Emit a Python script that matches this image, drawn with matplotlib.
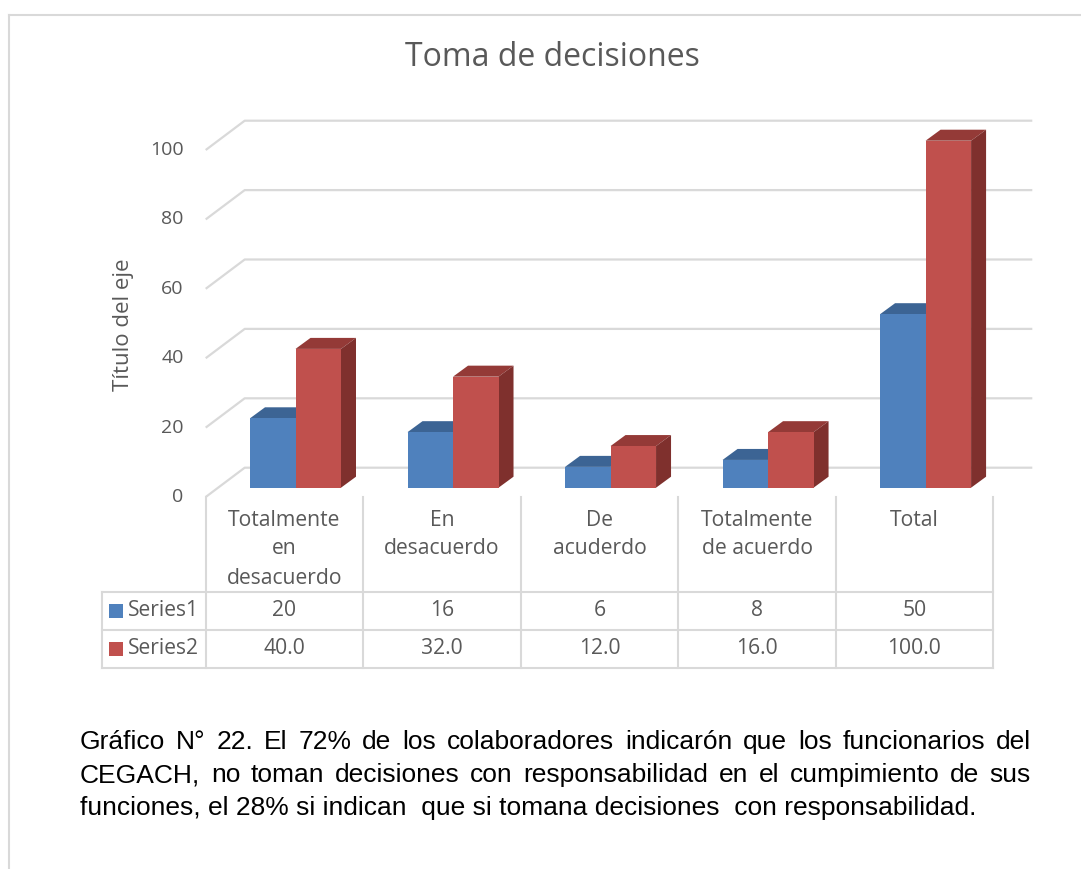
import matplotlib
matplotlib.use("Agg")
import matplotlib.pyplot as plt
from matplotlib.patches import Polygon, Rectangle
from matplotlib.lines import Line2D

# ---------------- data ----------------
categories = ["Totalmente\nen\ndesacuerdo", "En\ndesacuerdo", "De\nacuderdo",
              "Totalmente\nde acuerdo", "Total"]
series_names = ["Series1", "Series2"]
series1 = [20, 16, 6, 8, 50]
series2 = [40.0, 32.0, 12.0, 16.0, 100.0]
series1_labels = ["20", "16", "6", "8", "50"]
series2_labels = ["40.0", "32.0", "12.0", "16.0", "100.0"]
yticks = [0, 20, 40, 60, 80, 100]
title = "Toma de decisiones"
ylabel = "Título del eje"
caption_lines = [
    "Gráfico N° 22. El 72% de los colaboradores indicarón que los funcionarios del",
    "CEGACH, no toman decisiones  con responsabilidad en el cumpimiento de sus",
    "funciones, el 28% si indican  que si tomana decisiones  con responsabilidad.",
]

# ---------------- style ----------------
W, H = 1081, 869
FONT = ["Open Sans", "DejaVu Sans"]
CAP_FONT = ["Liberation Sans", "DejaVu Sans"]
GRAY_TXT = "#595959"
LINE = "#D9D9D9"
BLUE, BLUE_TOP, BLUE_SIDE = "#4F81BD", "#3C6494", "#385D8A"
RED, RED_TOP, RED_SIDE = "#C0504D", "#943A37", "#7F302D"
TXT_SIZE = 15.2

fig = plt.figure(figsize=(W / 100, H / 100), dpi=100)
fig.patch.set_facecolor("white")


def fx(x):
    return x / W


def fy(y):
    return 1 - y / H


# page frame
fig.add_artist(Line2D([fx(9), fx(9)], [fy(15), fy(869)], color=LINE, lw=1.5))
fig.add_artist(Line2D([fx(9), fx(1081)], [fy(15), fy(15)], color=LINE, lw=1.5))

# axes = front plane of the 3D box
L, R, T, B = 205.7, 993.3, 150.0, 497.0
ax = fig.add_axes([fx(L), fy(B), (R - L) / W, (B - T) / H])
ax.set_xlim(-0.5, 4.5)
ax.set_ylim(0, 100)
ax.axis("off")

px_x = (R - L) / 5.0      # pixels per category unit
px_y = (B - T) / 100.0    # pixels per value unit

# depth of the back wall and of the bars (pixel based)
WX, WY = 39 / px_x, 29.3 / px_y
BX, BY = 12.4 / px_x, 9.3 / px_y
DX, DY = 15 / px_x, 11 / px_y
bw = 45.5 / px_x
start = (250 - L) / px_x - 0.5 - BX   # blue bar left edge, relative to category centre

# gridlines on back wall with diagonal left wall edge
for v in yticks:
    ax.plot([-0.5, -0.5 + WX, 4.5 + WX], [v, v + WY, v + WY], color=LINE, lw=1.6,
            clip_on=False, zorder=1, solid_capstyle="butt")

# y tick labels
for v in yticks:
    ax.text(-0.5 - 22 / px_x, v, str(v), ha="right", va="center", fontsize=14,
            color=GRAY_TXT, family=FONT)

# bars
for i in range(len(categories)):
    for j, (vals, cf, ct, cs) in enumerate([(series1, BLUE, BLUE_TOP, BLUE_SIDE),
                                            (series2, RED, RED_TOP, RED_SIDE)]):
        v = vals[i]
        x0 = i + start + j * bw + BX
        x1 = x0 + bw
        y0 = BY
        y1 = v + BY
        top = Polygon([(x0, y1), (x1, y1), (x1 + DX, y1 + DY), (x0 + DX, y1 + DY)],
                      closed=True, facecolor=ct, edgecolor="none", zorder=3 + i * 3 + j, clip_on=False)
        side = Polygon([(x1, y0), (x1 + DX, y0 + DY), (x1 + DX, y1 + DY), (x1, y1)],
                       closed=True, facecolor=cs, edgecolor="none", zorder=3 + i * 3 + j, clip_on=False)
        ax.add_patch(top)
        ax.add_patch(side)
        ax.bar(x0, v, width=bw, bottom=y0, align="edge", color=cf, edgecolor="none",
               zorder=3 + i * 3 + j + 0.5, clip_on=False)

# title and axis title
fig.text(fx(552), fy(58), title, ha="center", va="center", fontsize=23,
         color=GRAY_TXT, family=FONT)
fig.text(fx(123), fy(325), ylabel, ha="center", va="center", rotation=90,
         fontsize=16, color=GRAY_TXT, family=FONT)

# data table
col_edges = [L + k * px_x for k in range(6)]
row_lines = [591.7, 630.0, 668.3]
for xe in col_edges:
    fig.add_artist(Line2D([fx(xe), fx(xe)], [fy(497), fy(668.3)], color=LINE, lw=1.5))
fig.add_artist(Line2D([fx(101.7), fx(101.7)], [fy(591.7), fy(668.3)], color=LINE, lw=1.5))
for yl in row_lines:
    fig.add_artist(Line2D([fx(101.7), fx(R)], [fy(yl), fy(yl)], color=LINE, lw=1.5))

for i, cat in enumerate(categories):
    cx = L + (i + 0.5) * px_x
    for k, line in enumerate(cat.split("\n")):
        fig.text(fx(cx), fy(520 + 29 * k), line, ha="center", va="center",
                 fontsize=TXT_SIZE, color=GRAY_TXT, family=FONT)
    fig.text(fx(cx), fy(611), series1_labels[i], ha="center", va="center",
             fontsize=TXT_SIZE, color=GRAY_TXT, family=FONT)
    fig.text(fx(cx), fy(649), series2_labels[i], ha="center", va="center",
             fontsize=TXT_SIZE, color=GRAY_TXT, family=FONT)

for r, (name, col) in enumerate(zip(series_names, [BLUE, RED])):
    yc = 611 + 38 * r
    fig.add_artist(Rectangle((fx(109.3), fy(yc + 6.7)), 13.4 / W, 13.4 / H,
                             transform=fig.transFigure, facecolor=col, edgecolor="none"))
    fig.text(fx(128), fy(yc), name, ha="left", va="center", fontsize=TXT_SIZE,
             color=GRAY_TXT, family=FONT)

# caption, justified
fig.canvas.draw()
renderer = fig.canvas.get_renderer()
CAP_SIZE = 19
x_left, x_right = 80.0, 1031.0


def width_of(s):
    t = fig.text(0, 0, s, fontsize=CAP_SIZE, family=CAP_FONT)
    w = t.get_window_extent(renderer).width
    t.remove()
    return w


for k, line in enumerate(caption_lines):
    yc = 742 + 33 * k
    if k < len(caption_lines) - 1:
        words = line.split()
        widths = [width_of(w) for w in words]
        gap = (x_right - x_left - sum(widths)) / (len(words) - 1)
        x = x_left
        for w, wd in zip(words, widths):
            fig.text(fx(x), fy(yc), w, ha="left", va="center", fontsize=CAP_SIZE,
                     color="black", family=CAP_FONT)
            x += wd + gap
    else:
        fig.text(fx(x_left), fy(yc), line, ha="left", va="center", fontsize=CAP_SIZE,
                 color="black", family=CAP_FONT)

fig.savefig("out.png", dpi=100, facecolor="white")
